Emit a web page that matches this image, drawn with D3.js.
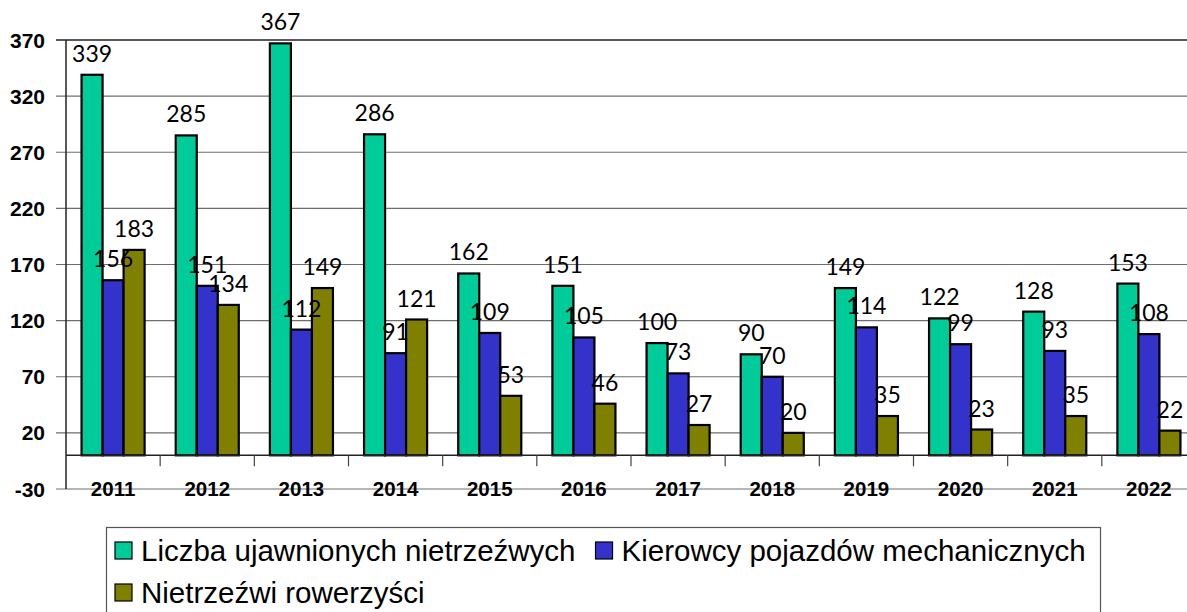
<!DOCTYPE html>
<html>
<head>
<meta charset="utf-8">
<script src="https://cdn.jsdelivr.net/npm/d3@7"></script>
<style>
  html, body { margin: 0; padding: 0; background: #fff; }
  svg { display: block; }
</style>
</head>
<body>
<svg id="chart" width="1187" height="612"></svg>
<script>
// chart data
const years = ['2011', '2012', '2013', '2014', '2015', '2016', '2017', '2018', '2019', '2020', '2021', '2022'];
const seriesNames = ['Liczba ujawnionych nietrzeźwych', 'Kierowcy pojazdów mechanicznych', 'Nietrzeźwi rowerzyści'];
const nietrzezwi = [339, 285, 367, 286, 162, 151, 100, 90, 149, 122, 128, 153];
const kierowcy = [156, 151, 112, 91, 109, 105, 73, 70, 114, 99, 93, 108];
const rowerzysci = [183, 134, 149, 121, 53, 46, 27, 20, 35, 23, 35, 22];
const yTicks = [-30, 20, 70, 120, 170, 220, 270, 320, 370];

const seriesValues = [nietrzezwi, kierowcy, rowerzysci];
const colors = ['#00cc99', '#3333cc', '#808000'];

const svg = d3.select('#chart');

const plot = {left: 66, top: 40, bottom: 489, right: 1196};

const x = d3.scaleBand()
  .domain(years)
  .range([plot.left, plot.right]);

const x1 = d3.scaleBand()
  .domain(d3.range(seriesNames.length))
  .range([0, x.bandwidth()])
  .paddingOuter(0.74);

const y = d3.scaleLinear()
  .domain([d3.min(yTicks), d3.max(yTicks)])
  .range([plot.bottom, plot.top]);

// gridlines + y labels
const grid = svg.append('g').attr('class', 'grid');
grid.selectAll('line')
  .data(yTicks)
  .enter()
  .append('line')
    .attr('x1', plot.left - 10)
    .attr('x2', plot.right)
    .attr('y1', d => y(d))
    .attr('y2', d => y(d))
    .attr('stroke', d => d === d3.max(yTicks) ? '#222' : '#6e6e6e')
    .attr('stroke-width', d => d === d3.max(yTicks) ? 1.6 : 1.2);

grid.selectAll('text')
  .data(yTicks)
  .enter()
  .append('text')
    .attr('x', 45)
    .attr('y', d => y(d))
    .attr('dy', '0.36em')
    .attr('text-anchor', 'end')
    .attr('font-family', 'Liberation Sans, Arial, sans-serif')
    .attr('font-weight', 'bold')
    .attr('font-size', 21)
    .text(d => d);

// y axis line
svg.append('line')
  .attr('x1', plot.left).attr('x2', plot.left)
  .attr('y1', plot.top).attr('y2', plot.bottom)
  .attr('stroke', '#222')
  .attr('stroke-width', 1.5);

// bars
const groups = svg.append('g')
  .selectAll('g')
  .data(years)
  .enter()
  .append('g')
    .attr('transform', d => `translate(${x(d)},0)`);

groups.selectAll('rect')
  .data((d, i) => seriesValues.map((vals, s) => ({s, v: vals[i]})))
  .enter()
  .append('rect')
    .attr('x', d => x1(d.s))
    .attr('width', x1.bandwidth())
    .attr('y', d => y(d.v))
    .attr('height', d => y(0) - y(d.v))
    .attr('fill', d => colors[d.s])
    .attr('stroke', '#000')
    .attr('stroke-width', 2.2);

// category axis at zero
svg.append('line')
  .attr('x1', plot.left).attr('x2', plot.right)
  .attr('y1', y(0)).attr('y2', y(0))
  .attr('stroke', '#222')
  .attr('stroke-width', 1.5);

svg.append('g')
  .selectAll('line')
  .data(years.slice(1))
  .enter()
  .append('line')
    .attr('x1', d => x(d)).attr('x2', d => x(d))
    .attr('y1', y(0)).attr('y2', y(0) + 11)
    .attr('stroke', '#444')
    .attr('stroke-width', 1.2);

svg.append('g')
  .selectAll('text')
  .data(years)
  .enter()
  .append('text')
    .attr('x', d => x(d) + x.bandwidth() / 2)
    .attr('y', 496)
    .attr('text-anchor', 'middle')
    .attr('font-family', 'Liberation Sans, Arial, sans-serif')
    .attr('font-weight', 'bold')
    .attr('font-size', 20.5)
    .text(d => d);

// value labels, drawn over everything
groups.selectAll('text')
  .data((d, i) => seriesValues.map((vals, s) => ({s, v: vals[i]})))
  .enter()
  .append('text')
    .attr('x', d => x1(d.s) + x1.bandwidth() / 2)
    .attr('y', d => y(d.v) - 13)
    .attr('text-anchor', 'middle')
    .attr('font-family', 'Lato, sans-serif')
    .attr('font-size', 23)
    .attr('fill', '#000')
    .text(d => d.v);

// legend
const legend = svg.append('g').attr('class', 'legend');
legend.append('rect')
  .attr('x', 106.5).attr('y', 527.5)
  .attr('width', 994).attr('height', 120)
  .attr('fill', '#fff')
  .attr('stroke', '#555')
  .attr('stroke-width', 1.2);

const legendW = 994, rowH = 42;
let lx = 115, ly = 542;
seriesNames.forEach((name, i) => {
  const item = legend.append('g');
  item.append('rect')
    .attr('width', 17).attr('height', 17)
    .attr('fill', colors[i])
    .attr('stroke', '#000')
    .attr('stroke-width', 1.2);
  const t = item.append('text')
    .attr('x', 26)
    .attr('y', 19)
    .attr('font-family', 'Liberation Sans, Arial, sans-serif')
    .attr('font-size', 29.5)
    .text(name);
  const w = 26 + t.node().getComputedTextLength();
  if (lx + w > 106 + legendW - 5) { lx = 115; ly += rowH; }
  item.attr('transform', `translate(${lx},${ly})`);
  lx += w + 20;
});
</script>
</body>
</html>
